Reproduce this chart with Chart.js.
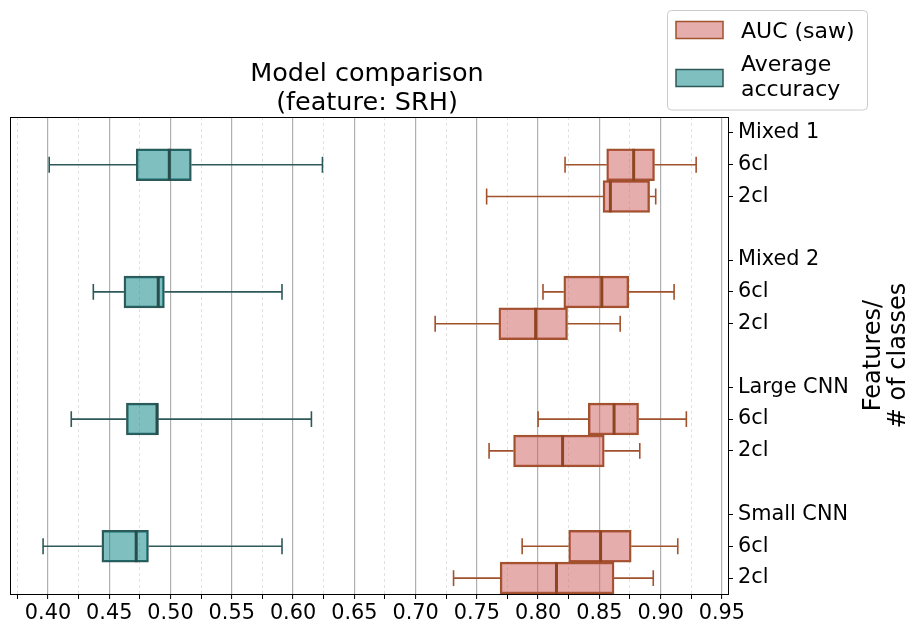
<!DOCTYPE html>
<html><head><meta charset="utf-8">
<script src="https://cdn.jsdelivr.net/npm/chart.js@4"></script>
<style>html,body{margin:0;padding:0;background:#fff}#wrap{width:910px;height:622px}</style>
</head><body><div id="wrap"><canvas id="c" width="910" height="622"></canvas></div>
<script>
// ---------- data ----------
const groups = ['Mixed 1', 'Mixed 2', 'Large CNN', 'Small CNN'];
const classes = ['6cl', '2cl'];
const xTickLabels = ['0.40','0.45','0.50','0.55','0.60','0.65','0.70','0.75','0.80','0.85','0.90','0.95'];

// AUC (saw): order per group -> 6cl, 2cl
const aucMin = [0.822, 0.758, 0.804, 0.716, 0.800, 0.760, 0.787, 0.731];
const aucQ1  = [0.856, 0.853, 0.821, 0.768, 0.841, 0.780, 0.825, 0.769];
const aucMed = [0.878, 0.859, 0.852, 0.798, 0.862, 0.820, 0.851, 0.815];
const aucQ3  = [0.895, 0.891, 0.874, 0.824, 0.882, 0.854, 0.876, 0.862];
const aucMax = [0.929, 0.896, 0.911, 0.867, 0.921, 0.883, 0.914, 0.894];

// Average accuracy: one per group (shown on the 6cl row)
const accMin = [0.401, 0.437, 0.419, 0.396];
const accQ1  = [0.472, 0.462, 0.464, 0.444];
const accMed = [0.499, 0.490, 0.489, 0.472];
const accQ3  = [0.517, 0.495, 0.490, 0.482];
const accMax = [0.624, 0.591, 0.615, 0.591];

// ---------- build ----------
const FONT = 'DejaVu Sans';
const rowLabels = [];
groups.forEach((g, gi) => {
  if (gi > 0) rowLabels.push('');
  rowLabels.push(g);
  classes.forEach(c => rowLabels.push(c));
});
const rowIndex = (gi, ci) => gi * (classes.length + 2) + 1 + ci;

const majorVals = xTickLabels.map(parseFloat);
const tickVals = [];
majorVals.forEach((v, i) => {
  if (i === 0) tickVals.push(v - (majorVals[1] - majorVals[0]) / 2);
  tickVals.push(v);
  if (i < majorVals.length - 1) tickVals.push((v + majorVals[i + 1]) / 2);
});
const isMajor = v => majorVals.some(m => Math.abs(m - v) < 1e-9);
const labelFor = v => { const i = majorVals.findIndex(m => Math.abs(m - v) < 1e-9); return i >= 0 ? xTickLabels[i] : ''; };

const aucStats = aucQ1.map((q1, i) => ({ row: rowIndex(Math.floor(i / classes.length), i % classes.length),
  min: aucMin[i], q1, med: aucMed[i], q3: aucQ3[i], max: aucMax[i] }));
const accStats = accQ1.map((q1, i) => ({ row: rowIndex(i, 0),
  min: accMin[i], q1, med: accMed[i], q3: accQ3[i], max: accMax[i] }));

const PINK_FILL = 'rgba(205,92,92,0.5)', PINK_EDGE = '#a0522d', PINK_MED = '#8f4520';
const TEAL_FILL = 'rgba(0,128,128,0.5)', TEAL_EDGE = '#2e5959', TEAL_MED = '#284c4c';

const boxPlugin = {
  id: 'boxParts',
  afterDatasetsDraw(chart) {
    const { ctx, scales: { x, y } } = chart;
    const draw = (stats, edge, med) => {
      stats.forEach(s => {
        const yc = y.getPixelForValue(s.row);
        const unit = y.getPixelForValue(s.row + 1) - yc;
        const cap = unit * 0.25, half = unit * 0.5;
        ctx.save();
        ctx.strokeStyle = edge; ctx.lineWidth = 1.6; ctx.lineCap = 'butt';
        ctx.beginPath();
        ctx.moveTo(x.getPixelForValue(s.min), yc); ctx.lineTo(x.getPixelForValue(s.q1), yc);
        ctx.moveTo(x.getPixelForValue(s.q3), yc); ctx.lineTo(x.getPixelForValue(s.max), yc);
        ctx.moveTo(x.getPixelForValue(s.min), yc - cap); ctx.lineTo(x.getPixelForValue(s.min), yc + cap);
        ctx.moveTo(x.getPixelForValue(s.max), yc - cap); ctx.lineTo(x.getPixelForValue(s.max), yc + cap);
        ctx.stroke();
        ctx.strokeStyle = med; ctx.lineWidth = 3;
        ctx.beginPath();
        ctx.moveTo(x.getPixelForValue(s.med), yc - half); ctx.lineTo(x.getPixelForValue(s.med), yc + half);
        ctx.stroke();
        ctx.restore();
      });
    };
    draw(accStats, TEAL_EDGE, TEAL_MED);
    draw(aucStats, PINK_EDGE, PINK_MED);
  },
  afterDraw(chart) {
    const { ctx, chartArea: a } = chart;
    ctx.save();
    // frame
    ctx.strokeStyle = '#000'; ctx.lineWidth = 1;
    ctx.strokeRect(Math.round(a.left) + 0.5, Math.round(a.top) + 0.5, Math.round(a.right - a.left), Math.round(a.bottom - a.top));
    // title
    ctx.fillStyle = '#000'; ctx.textAlign = 'center'; ctx.textBaseline = 'alphabetic';
    ctx.font = `25.5px "${FONT}"`;
    const cx = (a.left + a.right) / 2 - 2;
    ctx.fillText('Model comparison', cx, a.top - 36.5);
    ctx.fillText('(feature: SRH)', cx, a.top - 7.5);
    // right axis title
    ctx.save();
    const cy = (a.top + a.bottom) / 2;
    ctx.font = `24px "${FONT}"`;
    ctx.translate(880, cy); ctx.rotate(-Math.PI / 2);
    ctx.fillText('Features/', 0, 0);
    ctx.fillText('# of classes', 0, 25);
    ctx.restore();
    // legend
    const lx = 667.5, ly = 10.5, lw = 200, lh = 99.5;
    ctx.beginPath(); ctx.roundRect(lx, ly, lw, lh, 4);
    ctx.fillStyle = 'rgba(255,255,255,0.85)'; ctx.fill();
    ctx.strokeStyle = '#cccccc'; ctx.lineWidth = 1; ctx.stroke();
    const patch = (py, fill, edge) => {
      ctx.fillStyle = '#fff'; ctx.fillRect(676, py, 47, 17);
      ctx.fillStyle = fill; ctx.fillRect(676, py, 47, 17);
      ctx.strokeStyle = edge; ctx.lineWidth = 1.5; ctx.strokeRect(676, py, 47, 17);
    };
    patch(21.5, PINK_FILL, PINK_EDGE);
    patch(69.5, TEAL_FILL, TEAL_EDGE);
    ctx.fillStyle = '#000'; ctx.textAlign = 'left'; ctx.font = `22px "${FONT}"`;
    ctx.fillText('AUC (saw)', 741, 37.5);
    ctx.fillText('Average', 741, 70.5);
    ctx.fillText('accuracy', 741, 96);
    ctx.restore();
  }
};

new Chart(document.getElementById('c'), {
  type: 'bar',
  data: {
    datasets: [
      { label: 'Average accuracy', data: accStats.map(s => ({ y: s.row, x: [s.q1, s.q3] })),
        backgroundColor: TEAL_FILL, borderColor: TEAL_EDGE, borderWidth: 1.8, borderSkipped: false,
        grouped: false, barPercentage: 1, categoryPercentage: 1 },
      { label: 'AUC (saw)', data: aucStats.map(s => ({ y: s.row, x: [s.q1, s.q3] })),
        backgroundColor: PINK_FILL, borderColor: PINK_EDGE, borderWidth: 1.8, borderSkipped: false,
        grouped: false, barPercentage: 1, categoryPercentage: 1 }
    ]
  },
  options: {
    indexAxis: 'y', responsive: false, animation: false,
    layout: { padding: { left: 10, top: 117, right: 0, bottom: 0 } },
    plugins: { legend: { display: false }, tooltip: { enabled: false }, title: { display: false } },
    scales: {
      x: {
        type: 'linear', min: 0.369, max: 0.955, bounds: 'data', offset: false,
        afterBuildTicks: s => { s.ticks = tickVals.map(v => ({ value: v })); },
        afterFit: s => { s.height = 28; },
        ticks: { autoSkip: false, maxRotation: 0, minRotation: 0, padding: 2, color: '#000',
          font: { family: FONT, size: 20.8 }, callback: v => labelFor(v) },
        grid: {
          color: c => (c.tick && isMajor(c.tick.value)) ? '#b0b0b0' : '#dadada',
          lineWidth: c => (c.tick && isMajor(c.tick.value)) ? 1.2 : 0.8,
          tickColor: '#000', tickLength: 5, tickWidth: 1
        },
        border: { display: true, color: '#000', width: 1,
          dash: c => (c.tick && !isMajor(c.tick.value)) ? [3, 3] : [] }
      },
      y: {
        type: 'linear', position: 'right', reverse: true, offset: false,
        min: -0.5, max: rowLabels.length - 0.5, bounds: 'data',
        afterBuildTicks: s => { s.ticks = rowLabels.map((l, i) => ({ value: i, l })).filter(t => t.l !== '').map(t => ({ value: t.value })); },
        afterFit: s => { s.width = 182; },
        ticks: { autoSkip: false, padding: 5, color: '#000', font: { family: FONT, size: 20.8 },
          callback: v => rowLabels[v] },
        grid: { offset: false, drawOnChartArea: false, drawTicks: true, tickLength: 5, tickWidth: 1, tickColor: '#000' },
        border: { display: true, color: '#000', width: 1 }
      }
    }
  },
  plugins: [boxPlugin]
});
</script>
</body></html>
